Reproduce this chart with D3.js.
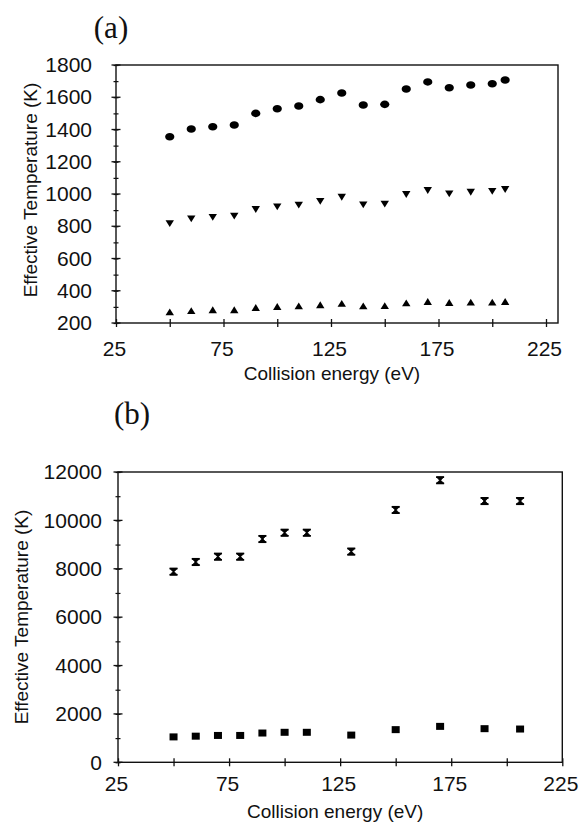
<!DOCTYPE html>
<html>
<head>
<meta charset="utf-8">
<script src="https://cdn.jsdelivr.net/npm/d3@7"></script>
<style>
  html, body { margin: 0; padding: 0; background: #fff; }
  svg text { fill: #111; }
</style>
</head>
<body>
<svg id="fig" width="579" height="822"></svg>
<script>
// panel (a) data
const energyA = [50, 60, 70, 80, 90, 100, 110, 120, 130, 140, 150, 160, 170, 180, 190, 200, 206];
const circlesA = [1355, 1403, 1417, 1428, 1500, 1529, 1546, 1585, 1626, 1552, 1556, 1651, 1695, 1659, 1676, 1684, 1707];
const downA = [818, 847, 856, 864, 905, 921, 932, 955, 981, 934, 938, 998, 1023, 1002, 1012, 1017, 1029];
const upA = [268, 276, 281, 281, 295, 301, 305, 312, 320, 305, 307, 324, 332, 326, 328, 328, 332];

// panel (b) data
const energyB = [50, 60, 70, 80, 90, 100, 110, 130, 150, 170, 190, 206];
const barsB = [7880, 8280, 8500, 8500, 9230, 9490, 9490, 8710, 10430, 11660, 10800, 10800];
const barErrB = [130, 130, 130, 130, 130, 130, 130, 130, 130, 130, 130, 130];
const squaresB = [1050, 1080, 1110, 1110, 1210, 1240, 1240, 1125, 1350, 1485, 1390, 1375];

// ticks
const xLabels = [25, 75, 125, 175, 225];
const xMinor = [25, 50, 75, 100, 125, 150, 175, 200, 225];
const yLabelsA = [200, 400, 600, 800, 1000, 1200, 1400, 1600, 1800];
const yMinorA = d3.range(200, 1801, 100);
const yLabelsB = [0, 2000, 4000, 6000, 8000, 10000, 12000];
const yMinorB = d3.range(0, 12001, 1000);

const svg = d3.select("#fig");
const sans = "'Liberation Sans', Arial, Helvetica, sans-serif";
const serif = "'Liberation Serif', 'Times New Roman', serif";
const fmt = d3.format("d");

function drawPanel(p) {
  const x = d3.scaleLinear().domain([25, 225]).range([p.left, p.xEnd]);
  const y = d3.scaleLinear().domain(p.yDomain).range([p.bottom, p.top]);
  const g = svg.append("g");

  // frame
  g.append("rect")
    .attr("x", p.left).attr("y", p.top)
    .attr("width", p.right - p.left).attr("height", p.bottom - p.top)
    .attr("fill", "none").attr("stroke", "#111").attr("stroke-width", 1.4);

  // x ticks (crossing the axis)
  const xMin = g.append("g").attr("transform", `translate(0,${p.bottom})`)
    .call(d3.axisBottom(x).tickValues(xMinor).tickSize(4).tickFormat(""));
  xMin.select(".domain").remove();
  xMin.selectAll(".tick line").attr("y1", -4).attr("y2", 4).attr("stroke", "#111").attr("stroke-width", 1.3);

  const xMaj = g.append("g").attr("transform", `translate(0,${p.bottom})`)
    .call(d3.axisBottom(x).tickValues(xLabels).tickSize(0).tickPadding(p.xPad).tickFormat(fmt));
  xMaj.select(".domain").remove();
  xMaj.selectAll("text").attr("font-family", sans).attr("font-size", 21).attr("dx", -2).attr("fill", "#111");

  // y ticks
  const yMin = g.append("g").attr("transform", `translate(${p.left},0)`)
    .call(d3.axisLeft(y).tickValues(p.yMinor).tickSize(2.5).tickFormat(""));
  yMin.select(".domain").remove();
  yMin.selectAll(".tick line").attr("x1", -2.5).attr("x2", 2.5).attr("stroke", "#111").attr("stroke-width", 1.2);

  const yMaj = g.append("g").attr("transform", `translate(${p.left},0)`)
    .call(d3.axisLeft(y).tickValues(p.yLabels).tickSize(0).tickPadding(p.yPad).tickFormat(fmt));
  yMaj.select(".domain").remove();
  yMaj.selectAll("text").attr("font-family", sans).attr("font-size", 21).attr("fill", "#111");
  g.selectAll(null).data(p.yLabels).enter().append("line")
    .attr("x1", p.left - 4.5).attr("x2", p.left + 4.5)
    .attr("y1", d => y(d)).attr("y2", d => y(d))
    .attr("stroke", "#111").attr("stroke-width", 1.3);

  // titles
  g.append("text")
    .attr("x", (p.left + p.right) / 2 + p.xTitleDx).attr("y", p.xTitleY)
    .attr("text-anchor", "middle").attr("font-family", sans).attr("font-size", 19)
    .text("Collision energy (eV)");
  g.append("text")
    .attr("transform", `translate(${p.yTitleX},${p.yTitleY}) rotate(-90)`)
    .attr("text-anchor", "middle").attr("font-family", sans).attr("font-size", 19)
    .text("Effective Temperature (K)");
  g.append("text")
    .attr("x", p.tagX).attr("y", p.tagY)
    .attr("text-anchor", "middle").attr("font-family", serif).attr("font-size", 31)
    .text(p.tag);

  return { g, x, y };
}

// ---- panel (a)
const A = drawPanel({
  left: 116, xEnd: 546, right: 558, top: 65, bottom: 323,
  yDomain: [200, 1800], yLabels: yLabelsA, yMinor: yMinorA,
  xPad: 18, yPad: 24, xTitleDx: -5, xTitleY: 380,
  yTitleX: 37, yTitleY: 190, tag: "(a)", tagX: 111, tagY: 38
});

A.g.selectAll(null).data(energyA.map((e, i) => [e, circlesA[i]])).enter()
  .append("ellipse")
  .attr("cx", d => A.x(d[0])).attr("cy", d => A.y(d[1]))
  .attr("rx", 4.6).attr("ry", 3.8).attr("fill", "#000");

A.g.selectAll(null).data(energyA.map((e, i) => [e, downA[i]])).enter()
  .append("path")
  .attr("transform", d => `translate(${A.x(d[0])},${A.y(d[1])})`)
  .attr("d", "M-4.2,-3.2L4.2,-3.2L0,3.6Z").attr("fill", "#000");

A.g.selectAll(null).data(energyA.map((e, i) => [e, upA[i]])).enter()
  .append("path")
  .attr("transform", d => `translate(${A.x(d[0])},${A.y(d[1])})`)
  .attr("d", "M-4.2,3.2L4.2,3.2L0,-3.6Z").attr("fill", "#000");

// ---- panel (b)
const B = drawPanel({
  left: 118, xEnd: 562.3, right: 562.3, top: 472, bottom: 762.3,
  yDomain: [0, 12000], yLabels: yLabelsB, yMinor: yMinorB,
  xPad: 14, yPad: 16, xTitleDx: -5, xTitleY: 818,
  yTitleX: 28, yTitleY: 617, tag: "(b)", tagX: 132, tagY: 424
});

const bars = B.g.selectAll(null).data(energyB.map((e, i) => [e, barsB[i], barErrB[i]])).enter()
  .append("g")
  .attr("transform", d => `translate(${B.x(d[0])},0)`);
bars.append("path")
  .attr("d", d => {
    const t = B.y(d[1] + d[2]), b = B.y(d[1] - d[2]), m = B.y(d[1]);
    return `M-3.6,${t}L3.6,${t}L0.6,${m}L3.6,${b}L-3.6,${b}L-0.6,${m}Z`;
  })
  .attr("fill", "#000").attr("stroke", "#000").attr("stroke-width", 0.8);
bars.append("line")
  .attr("x1", -4).attr("x2", 4)
  .attr("y1", d => B.y(d[1] + d[2])).attr("y2", d => B.y(d[1] + d[2]))
  .attr("stroke", "#000").attr("stroke-width", 1.8);
bars.append("line")
  .attr("x1", -4).attr("x2", 4)
  .attr("y1", d => B.y(d[1] - d[2])).attr("y2", d => B.y(d[1] - d[2]))
  .attr("stroke", "#000").attr("stroke-width", 1.8);

B.g.selectAll(null).data(energyB.map((e, i) => [e, squaresB[i]])).enter()
  .append("rect")
  .attr("x", d => B.x(d[0]) - 4).attr("y", d => B.y(d[1]) - 3.5)
  .attr("width", 8).attr("height", 7).attr("fill", "#000");
</script>
</body>
</html>
